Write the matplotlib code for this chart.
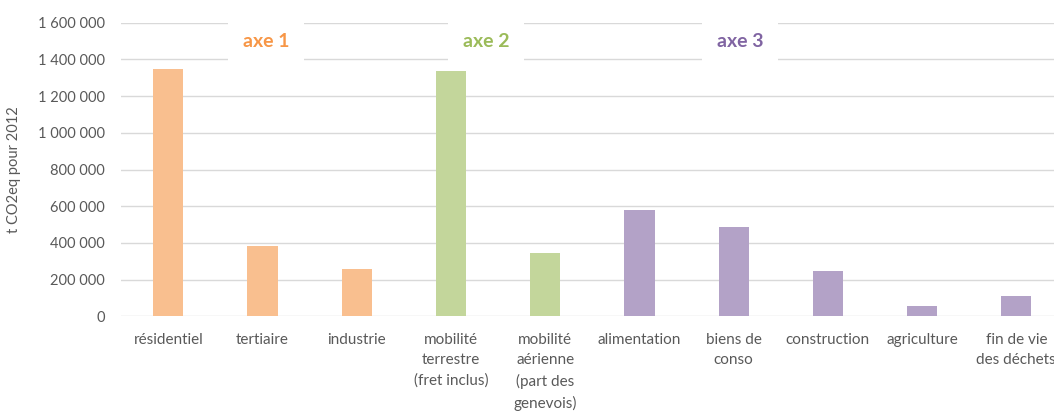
import matplotlib
matplotlib.use('Agg')
import matplotlib.pyplot as plt
from matplotlib.ticker import FuncFormatter

plt.rcParams['font.family'] = ['Lato', 'DejaVu Sans']

# Données
categories = ['résidentiel', 'tertiaire', 'industrie', 'mobilité\nterrestre\n(fret inclus)',
              'mobilité\naérienne\n(part des\ngenevois)', 'alimentation', 'biens de\nconso',
              'construction', 'agriculture', 'fin de vie\ndes déchets']
valeurs = [1350000, 382000, 257000, 1335000, 344000, 580000, 486000, 246000, 55000, 109000]
groupes = [1, 1, 1, 2, 2, 3, 3, 3, 3, 3]
axes_labels = ['axe 1', 'axe 2', 'axe 3']
yticks = [0, 200000, 400000, 600000, 800000, 1000000, 1200000, 1400000, 1600000]

couleurs_barres = {1: '#F9BF8F', 2: '#C3D69B', 3: '#B3A2C7'}
couleurs_texte = {1: '#F79646', 2: '#9BBB59', 3: '#8064A2'}

fig = plt.figure(figsize=(10.54, 4.12), dpi=100)
ax = fig.add_axes([0.115, 0.232, 0.885, 0.713])

x = list(range(len(categories)))
ax.bar(x, valeurs, width=0.32, color=[couleurs_barres[g] for g in groupes], zorder=2)

ax.set_xlim(-0.5, 9.4)
ax.set_ylim(0, 1600000)
ax.set_yticks(yticks)
ax.yaxis.set_major_formatter(FuncFormatter(lambda v, p: '{:,.0f}'.format(v).replace(',', ' ')))
ax.grid(axis='y', color='#D9D9D9', linewidth=1, zorder=0)
ax.set_axisbelow(True)
for s in ax.spines.values():
    s.set_visible(False)
ax.tick_params(axis='both', length=0, colors='#595959')
ax.tick_params(axis='y', pad=12, labelsize=10.5)
ax.set_xticks(x)
ax.set_xticklabels(categories, linespacing=1.56, va='top', fontsize=11)
ax.tick_params(axis='x', pad=12)
ax.set_ylabel('t CO2eq pour 2012', color='#595959', fontsize=10.5, labelpad=12)

# Étiquettes des axes
positions_axes = [1.04, 3.37, 6.07]
for i, lab in enumerate(axes_labels):
    ax.text(positions_axes[i], 1500000, lab, ha='center', va='center', fontsize=14,
            fontweight='bold', color=couleurs_texte[i + 1], zorder=3,
            bbox=dict(boxstyle='square,pad=0.75', facecolor='white', edgecolor='none'))

fig.savefig('out.png', dpi=100)
